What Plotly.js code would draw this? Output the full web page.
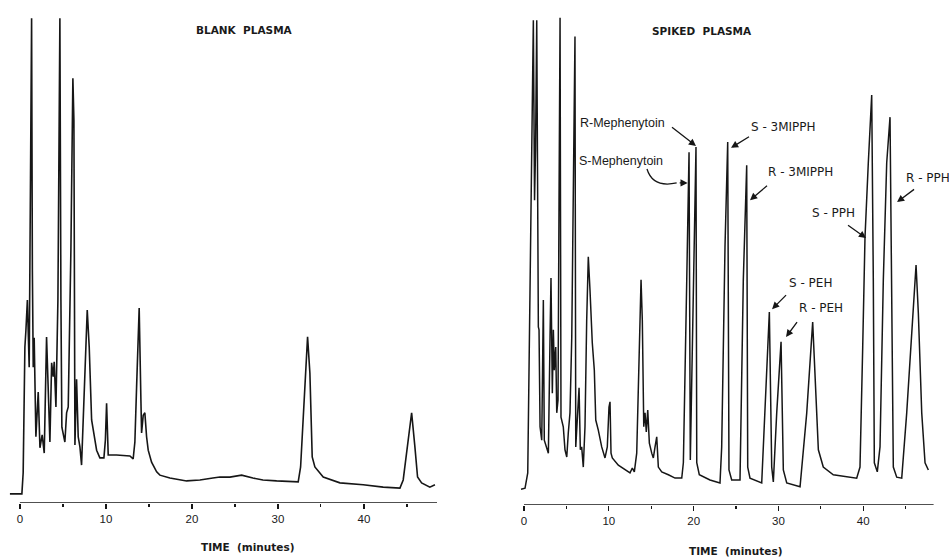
<!DOCTYPE html>
<html>
<head>
<meta charset="utf-8">
<script src="https://cdn.plot.ly/plotly-3.0.1.min.js"></script>
<style>html,body{margin:0;padding:0;background:#fff;}#chart{width:949px;height:557px;}</style>
</head>
<body>
<div id="chart"></div>
<script>
// ---- Data (time in minutes, detector response in relative units) ----
const blankTime = [-1.16,0.23,0.38,0.58,0.70,0.87,1.08,1.22,1.36,1.45,1.55,1.66,1.86,2.13,2.33,2.59,2.83,3.10,3.34,3.49,3.69,3.87,3.99,4.19,4.42,4.65,4.77,4.88,5.23,5.43,5.62,5.93,6.16,6.28,6.40,6.59,6.78,6.98,7.17,7.33,7.56,7.83,8.06,8.34,8.92,9.30,9.77,9.94,10.08,10.27,11.24,12.79,13.17,13.37,13.57,13.87,14.07,14.15,14.34,14.53,14.73,14.92,15.31,15.90,16.28,17.44,19.38,20.93,22.44,23.26,24.42,25.78,27.09,28.26,29.85,32.36,32.64,33.14,33.45,33.72,33.99,34.30,35.27,37.21,39.92,42.24,44.19,44.57,44.97,45.55,45.93,46.24,46.71,47.67,48.26];
const blankSignal = [1.9,1.9,6.3,32.5,36.0,42.3,28.3,63.0,101.0,48.5,28.3,34.4,13.8,23.1,11.5,14.2,10.4,34.6,18.8,12.7,29.2,26.3,29.4,20.0,42.3,101.0,42.3,15.8,12.7,18.8,20.0,52.7,88.5,79.8,12.1,25.8,13.8,11.7,7.9,15.2,27.3,40.2,32.5,17.3,11.0,9.4,9.4,13.1,20.8,10.0,10.0,9.8,9.2,12.7,24.2,40.6,21.5,14.6,18.3,18.8,13.8,11.0,8.5,6.5,5.8,5.2,4.6,4.8,5.2,5.4,5.4,5.8,5.2,4.8,4.6,4.4,7.5,25.0,34.6,27.1,9.6,7.5,5.4,4.2,3.8,3.3,3.1,4.8,11.0,18.8,11.7,5.4,4.2,3.3,3.8];

const spikedTime = [-0.35,0.12,0.44,0.71,0.94,1.10,1.24,1.36,1.50,1.59,1.69,1.77,1.89,2.09,2.28,2.39,2.68,2.87,3.07,3.18,3.34,3.46,3.57,3.74,3.86,4.01,4.13,4.25,4.36,4.63,4.83,5.04,5.22,5.42,5.63,5.81,6.01,6.10,6.29,6.49,6.64,6.80,6.99,7.19,7.39,7.58,7.78,8.05,8.29,8.46,8.76,9.16,9.55,9.82,10.02,10.14,10.26,10.41,11.12,11.91,12.50,12.77,13.01,13.29,13.56,13.80,13.95,14.12,14.27,14.42,14.59,14.78,15.06,15.25,15.45,15.65,15.84,16.24,17.02,17.81,18.60,18.79,19.19,19.46,19.61,19.89,20.28,20.37,20.67,21.93,23.11,23.31,23.70,24.02,24.17,24.49,25.47,25.86,26.26,26.38,26.65,28.03,28.42,28.93,29.21,29.40,29.80,30.31,30.58,30.98,32.55,33.34,34.04,34.32,34.71,35.29,36.47,39.23,39.62,39.94,40.21,40.60,41.00,41.19,41.31,41.66,41.98,42.37,42.77,43.16,43.36,43.55,43.95,44.54,45.13,45.72,46.23,46.50,46.90,47.29,47.68];
const spikedSignal = [3.3,3.5,6.7,45.4,74.0,101.0,63.5,74.0,101.0,53.1,37.1,36.5,16.3,13.5,42.7,13.5,12.1,10.8,35.0,47.3,23.3,36.5,28.1,32.9,19.2,21.9,63.5,101.5,18.3,16.3,11.5,10.0,15.0,19.2,35.0,63.5,97.6,12.1,17.7,24.4,11.5,12.1,7.9,16.3,38.5,51.7,44.8,33.8,28.1,17.7,15.6,12.1,9.8,12.1,20.4,21.5,10.8,9.8,8.3,7.3,6.7,7.7,6.9,10.8,31.7,46.9,38.5,16.3,19.2,15.2,19.8,12.9,10.8,9.8,12.1,14.2,7.9,6.9,6.3,5.6,5.6,8.8,46.9,73.5,9.4,40.0,74.6,8.8,6.3,5.2,4.6,12.1,53.8,75.6,7.3,5.2,5.2,46.9,70.8,7.9,5.6,4.6,19.2,40.2,7.9,4.8,19.2,34.0,7.3,4.6,3.8,19.2,38.1,26.0,11.5,7.9,6.3,5.6,7.9,32.9,55.8,71.3,85.4,46.9,8.8,6.9,12.1,46.9,71.3,80.8,46.9,7.9,5.8,5.6,19.2,36.5,50.0,40.0,19.2,8.8,7.3];

const tickVals = [0, 10, 20, 30, 40];
const tickText = ["0", "10", "20", "30", "40"];
const minorTickVals = [5, 15, 25, 35, 45];

const panelTitles = ["BLANK  PLASMA", "SPIKED  PLASMA"];
const axisTitle = "TIME  (minutes)";

// Peak labels (spiked plasma): text, label position, arrow head position
const peakLabels = ["R-Mephenytoin", "S-Mephenytoin", "S - 3MIPPH", "R - 3MIPPH", "S - PEH", "R - PEH", "S - PPH", "R - PPH"];
const labelX = [11.56, 11.44, 30.54, 32.55, 33.84, 35.02, 36.44, 47.64];
const labelY = [79.6, 71.7, 78.75, 69.4, 46.25, 41.0, 60.8, 68.1];
const arrowHeadX = [20.28, 19.30, 24.41, 26.65, 29.25, 30.90, 40.33, 43.99];
const arrowHeadY = [74.8, 67.1, 74.4, 63.5, 40.8, 35.0, 55.6, 63.1];
const arrowDX = [-27, -11, 21, 20, 17, 14, -21, 20];
const arrowDY = [-21, 0, -13, -17, -17, -19, -15, -15];

// ---- Layout helpers ----
const W = 949, H = 557;
const ink = "#161616";
const yRange = [0, 102.08];

const traces = [
  {x: blankTime, y: blankSignal, xaxis: "x", yaxis: "y", type: "scatter", mode: "lines",
   line: {color: ink, width: 1.6}, hoverinfo: "x+y", showlegend: false},
  {x: spikedTime, y: spikedSignal, xaxis: "x2", yaxis: "y2", type: "scatter", mode: "lines",
   line: {color: ink, width: 1.5}, hoverinfo: "x+y", showlegend: false}
];

function xAxis(d0, d1, anchor) {
  return {
    domain: [d0 / W, d1 / W], range: [-1.5, 48.5], anchor: anchor,
    showgrid: false, zeroline: false, showline: false,
    ticks: "outside", ticklen: 5, tickwidth: 1.3, tickcolor: ink,
    tickmode: "array", tickvals: tickVals, ticktext: tickText,
    minor: {tickmode: "array", tickvals: minorTickVals, ticks: "outside", ticklen: 3, tickwidth: 1.2, tickcolor: ink, showgrid: false},
    tickfont: {family: "Liberation Sans, Arial, sans-serif", size: 11.5, color: "#1a1a1a"},
    fixedrange: true
  };
}
function yAxis(bottomPx, topPx, anchor) {
  return {
    domain: [(H - bottomPx) / H, (H - topPx) / H], range: yRange, anchor: anchor,
    visible: false, showgrid: false, zeroline: false, fixedrange: true
  };
}

const annotations = [];
const titleFont = {family: "DejaVu Sans, Liberation Sans, sans-serif", size: 10.5, color: "#1a1a1a", weight: "bold"};
annotations.push({text: panelTitles[0], xref: "x", yref: "y", x: 26.16, y: 98.5, xanchor: "center", yanchor: "middle", showarrow: false, font: titleFont});
annotations.push({text: panelTitles[1], xref: "x2", yref: "y2", x: 20.99, y: 98.75, xanchor: "center", yanchor: "middle", showarrow: false, font: titleFont});
annotations.push({text: axisTitle, xref: "paper", yref: "paper", x: 247 / W, y: (H - 547) / H, xanchor: "center", yanchor: "middle", showarrow: false, font: titleFont});
annotations.push({text: axisTitle, xref: "paper", yref: "paper", x: 735 / W, y: (H - 551) / H, xanchor: "center", yanchor: "middle", showarrow: false, font: titleFont});

for (let i = 0; i < peakLabels.length; i++) {
  const isMeph = i < 2;
  annotations.push({
    text: peakLabels[i], xref: "x2", yref: "y2", x: labelX[i], y: labelY[i], xanchor: "center", yanchor: "middle", showarrow: false,
    font: isMeph ? {family: "Liberation Sans, Arial, sans-serif", size: 12.5, color: "#1a1a1a"}
                 : {family: "DejaVu Sans, sans-serif", size: 12, color: "#1a1a1a"}
  });
  annotations.push({
    text: " ", xref: "x2", yref: "y2", x: arrowHeadX[i], y: arrowHeadY[i],
    showarrow: true, ax: arrowDX[i], ay: arrowDY[i], arrowhead: 2, arrowsize: 1.1, arrowwidth: 1.3, arrowcolor: ink
  });
}

const shapes = [
  {type: "line", xref: "x", yref: "y", x0: 0, x1: 48.5, y0: 0, y1: 0, line: {color: ink, width: 1.4}},
  {type: "line", xref: "x2", yref: "y2", x0: 0, x1: 48.3, y0: 0, y1: 0, line: {color: ink, width: 1.4}},
  // curved leader for S-Mephenytoin label
  {type: "path", xref: "x2", yref: "y2",
   path: "M 14.5 70.0 Q 15.2 66.0 18.0 67.1", line: {color: ink, width: 1.3}}
];

const layout = {
  width: W, height: H,
  margin: {l: 0, r: 0, t: 0, b: 0},
  paper_bgcolor: "#fff", plot_bgcolor: "#fff",
  showlegend: false,
  xaxis: xAxis(7, 437, "y"),
  yaxis: yAxis(503, 13, "x"),
  xaxis2: xAxis(511.3, 935.3, "y2"),
  yaxis2: yAxis(505, 15, "x2"),
  annotations: annotations,
  shapes: shapes
};

Plotly.newPlot("chart", traces, layout, {displayModeBar: false, staticPlot: true});
</script>
</body>
</html>
